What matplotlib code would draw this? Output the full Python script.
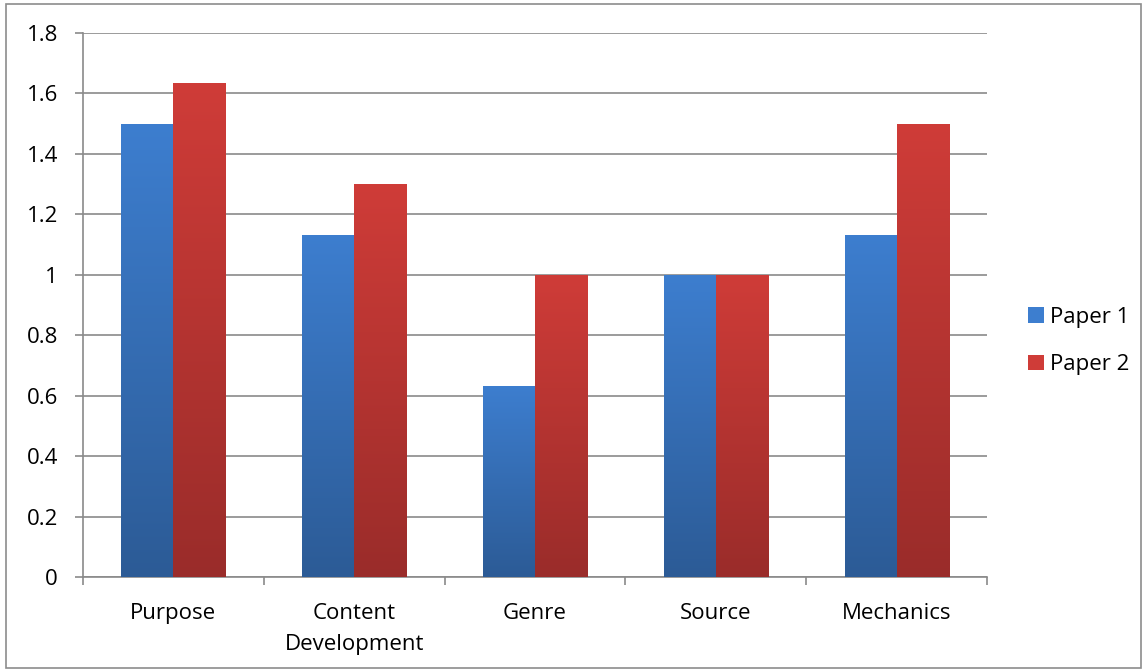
import numpy as np
import matplotlib
matplotlib.use("Agg")
import matplotlib.pyplot as plt
from matplotlib.colors import LinearSegmentedColormap
from matplotlib.patches import Rectangle, Patch

categories = ["Purpose", "Content\nDevelopment", "Genre", "Source", "Mechanics"]
paper1 = [1.5, 1.133, 0.633, 1.0, 1.133]
paper2 = [1.633, 1.3, 1.0, 1.0, 1.5]
series_names = ["Paper 1", "Paper 2"]
yticks = [0, 0.2, 0.4, 0.6, 0.8, 1, 1.2, 1.4, 1.6, 1.8]
ytick_labels = ["0", "0.2", "0.4", "0.6", "0.8", "1", "1.2", "1.4", "1.6", "1.8"]

# top / bottom colour of the vertical gradient
grad = {"Paper 1": ("#3d7ecf", "#2c5b96"), "Paper 2": ("#cf3c38", "#9a2c2a")}

plt.rcParams["font.family"] = ["Open Sans", "DejaVu Sans"]
FS = 16

fig = plt.figure(figsize=(11.47, 6.72), dpi=100)
ax = fig.add_axes([83 / 1147, 1 - 577 / 672, 904 / 1147, 544 / 672])

# outer chart border
fig.add_artist(Rectangle((6 / 1147, 4 / 672), 1135 / 1147, 664 / 672,
                         transform=fig.transFigure, fill=False,
                         edgecolor="#8c8c8c", lw=1.2))

n = len(categories)
x = np.arange(n)
w = 0.288

grad_img = np.linspace(0, 1, 256).reshape(-1, 1)
for vals, name, off in [(paper1, "Paper 1", -w / 2), (paper2, "Paper 2", w / 2)]:
    cmap = LinearSegmentedColormap.from_list(name, [grad[name][1], grad[name][0]])
    bars = ax.bar(x + off, vals, w, color=grad[name][0], zorder=3, lw=0)
    for b in bars:
        x0, y0 = b.get_x(), b.get_y()
        im = ax.imshow(grad_img, cmap=cmap, aspect="auto", origin="lower",
                       extent=[x0, x0 + b.get_width(), y0, y0 + b.get_height()],
                       zorder=3.5, interpolation="bilinear")
        im.set_clip_path(b)

ax.set_xlim(-0.5, n - 0.5)
ax.set_ylim(0, 1.8)

ax.set_yticks(yticks)
ax.set_yticklabels(ytick_labels)
ax.yaxis.grid(True, color="#8a8a8a", lw=1.2, zorder=1)
ax.set_axisbelow(True)

ax.set_xticks(np.arange(-0.5, n, 1))
ax.set_xticklabels([])
ax.set_xticks(x, minor=True)
ax.set_xticklabels(categories, minor=True, fontsize=FS, linespacing=1.6)
ax.tick_params(axis="x", which="minor", length=0, pad=19)
ax.tick_params(axis="x", which="major", length=6, color="#8a8a8a", width=1.2)
ax.tick_params(axis="y", length=6, color="#8a8a8a", width=1.2, labelsize=FS, pad=12)

for s in ["top", "right"]:
    ax.spines[s].set_visible(False)
for s in ["left", "bottom"]:
    ax.spines[s].set_color("#8a8a8a")
    ax.spines[s].set_linewidth(1.2)

handles = [Patch(facecolor=grad[nm][0], edgecolor="none", label=nm) for nm in series_names]
fig.legend(handles=handles, loc="center left", bbox_to_anchor=(1008 / 1147, 1 - 341 / 672),
           frameon=False, fontsize=FS, handlelength=0.7, handleheight=0.7,
           handletextpad=0.3, labelspacing=1.2)

fig.savefig("out.png", dpi=100, facecolor="white")
